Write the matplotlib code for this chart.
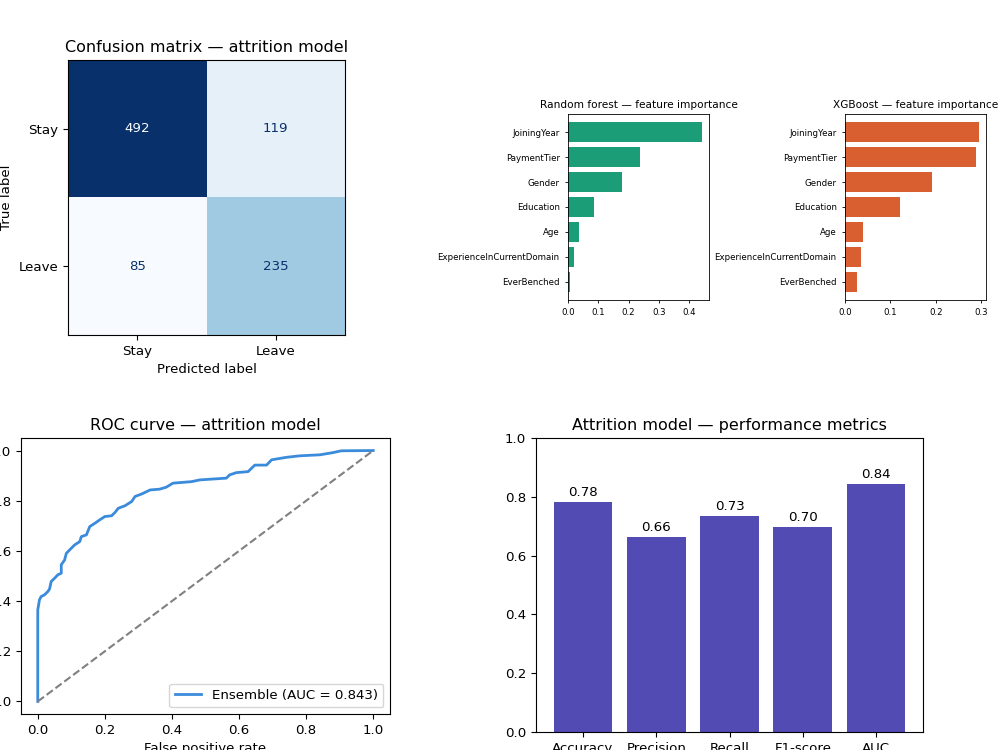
import numpy as np
import matplotlib
matplotlib.use("Agg")
import matplotlib.pyplot as plt

# Confusion matrix counts (rows = true, cols = predicted)
class_names = ["Stay", "Leave"]
cm_counts = [[492, 119],
             [85, 235]]

# Feature importances
features = ["JoiningYear", "PaymentTier", "Gender", "Education", "Age",
            "ExperienceInCurrentDomain", "EverBenched"]
rf_importance = [0.443, 0.237, 0.178, 0.087, 0.036, 0.019, 0.006]
xgb_importance = [0.296, 0.288, 0.192, 0.121, 0.039, 0.035, 0.027]

# ROC curve points
roc_fpr = [0.0, 0.0, 0.005, 0.01, 0.02, 0.03, 0.035, 0.04, 0.05, 0.06, 0.07,
           0.07, 0.08, 0.085, 0.095, 0.11, 0.125, 0.13, 0.145, 0.155, 0.17,
           0.185, 0.2, 0.22, 0.23, 0.24, 0.26, 0.28, 0.29, 0.31, 0.335, 0.363,
           0.383, 0.403, 0.458, 0.483, 0.562, 0.572, 0.592, 0.627, 0.647,
           0.682, 0.697, 0.741, 0.781, 0.841, 0.881, 0.905, 1.0]
roc_tpr = [0.0, 0.365, 0.405, 0.418, 0.425, 0.438, 0.448, 0.478, 0.491, 0.505,
           0.511, 0.545, 0.564, 0.59, 0.604, 0.624, 0.637, 0.657, 0.664, 0.697,
           0.71, 0.724, 0.737, 0.74, 0.753, 0.77, 0.78, 0.797, 0.817, 0.827,
           0.843, 0.846, 0.854, 0.87, 0.876, 0.883, 0.89, 0.903, 0.912, 0.916,
           0.942, 0.942, 0.963, 0.973, 0.979, 0.983, 0.992, 0.999, 1.0]
roc_auc = 0.843

# Summary metrics
metric_names = ["Accuracy", "Precision", "Recall", "F1-score", "AUC"]
metric_values = [0.781, 0.664, 0.734, 0.697, 0.843]

W, H = 1000, 750
fig = plt.figure(figsize=(10, 7.5), dpi=100)


def box(left, top, right, bottom):
    # pixel box -> figure fraction rect
    return [left / W, 1 - bottom / H, (right - left) / W, (bottom - top) / H]


big_tick = 9.6
big_title = 11.5
small_tick = 6.2
small_title = 7.6

# Confusion matrix
ax_cm = fig.add_axes(box(68, 60, 345, 335))
cm = np.array(cm_counts)
cmap = plt.get_cmap("Blues")
ax_cm.imshow(cm, cmap=cmap, interpolation="nearest", aspect="auto")
thresh = (cm.max() + cm.min()) / 2
for i in range(2):
    for j in range(2):
        color = cmap(0.0) if cm[i, j] > thresh else cmap(1.0)
        ax_cm.text(j, i, str(cm[i, j]), ha="center", va="center",
                   color=color, fontsize=big_tick)
ax_cm.set_xticks([0, 1], class_names, fontsize=big_tick)
ax_cm.set_yticks([0, 1], class_names, fontsize=big_tick)
ax_cm.set_xlabel("Predicted label", fontsize=big_tick)
ax_cm.set_ylabel("True label", fontsize=big_tick)
ax_cm.set_title("Confusion matrix — attrition model", fontsize=big_title)

# Feature importances
for rect, values, color, name in [
    (box(568, 114, 709, 300), rf_importance, "#1b9e77", "Random forest"),
    (box(845, 114, 986, 300), xgb_importance, "#d95f30", "XGBoost"),
]:
    ax = fig.add_axes(rect)
    ax.barh(features, values, color=color)
    ax.invert_yaxis()
    ax.tick_params(labelsize=small_tick, length=2.5, width=0.6)
    for s in ax.spines.values():
        s.set_linewidth(0.6)
    ax.set_title(f"{name} — feature importance", fontsize=small_title, pad=4)

# ROC curve
ax_roc = fig.add_axes(box(21, 438, 390, 714))
ax_roc.plot(roc_fpr, roc_tpr, color="#3a8bdc", lw=2,
            label=f"Ensemble (AUC = {roc_auc:.3f})")
ax_roc.plot([0, 1], [0, 1], ls="--", color="gray", lw=1.5)
ax_roc.set_xlim(-0.05, 1.05)
ax_roc.set_ylim(-0.05, 1.05)
ax_roc.tick_params(labelsize=big_tick)
ax_roc.set_xlabel("False positive rate", fontsize=big_tick)
ax_roc.set_title("ROC curve — attrition model", fontsize=big_title)
ax_roc.legend(loc="lower right", fontsize=big_tick)

# Metrics bar chart
ax_m = fig.add_axes(box(536, 438, 923, 732))
bars = ax_m.bar(metric_names, metric_values, color="#534bb4")
for b, v in zip(bars, metric_values):
    ax_m.text(b.get_x() + b.get_width() / 2, v + 0.01, f"{v:.2f}",
              ha="center", va="bottom", fontsize=big_tick)
ax_m.set_ylim(0, 1)
ax_m.tick_params(labelsize=big_tick)
ax_m.set_title("Attrition model — performance metrics", fontsize=big_title)

fig.savefig("out.png", dpi=100)
